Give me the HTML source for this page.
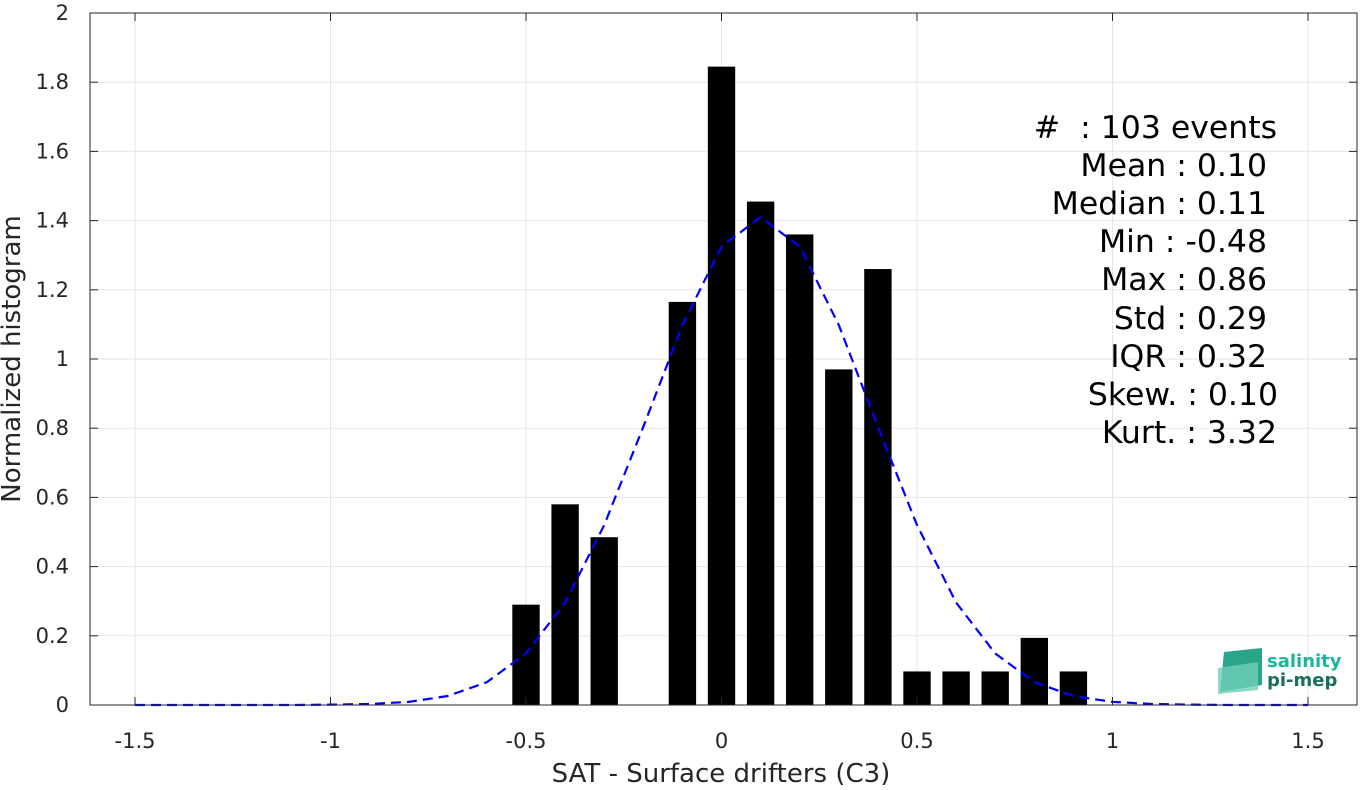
<!DOCTYPE html>
<html><head><meta charset="utf-8"><style>
body{margin:0;background:#fff;}
svg text{font-family:"DejaVu Sans","Liberation Sans",sans-serif;fill:#262626;}
</style></head><body>
<svg id="chart" width="1367" height="785" xmlns="http://www.w3.org/2000/svg">
<rect x="0" y="0" width="1367" height="785" fill="#fff"/>
<g id="grid"></g>
<g id="bars"></g>
<polyline id="fit" fill="none" stroke="#0000ff" stroke-width="2.2" stroke-dasharray="10,6"/>
<rect x="90" y="13" width="1267" height="692" fill="none" stroke="#262626" stroke-width="1"/>
<g id="ticks"></g>
<text x="721" y="782" font-size="26" text-anchor="middle">SAT - Surface drifters (C3)</text>
<text transform="translate(20,359) rotate(-90)" font-size="26" text-anchor="middle">Normalized histogram</text>
<g font-size="31.5" text-anchor="end">
<text x="1277" y="138" style="fill:#000;white-space:pre" xml:space="preserve">#  : 103 events</text>
<text x="1267" y="176" style="fill:#000">Mean : 0.10</text>
<text x="1267" y="214" style="fill:#000">Median : 0.11</text>
<text x="1267" y="252" style="fill:#000">Min : -0.48</text>
<text x="1267" y="290" style="fill:#000">Max : 0.86</text>
<text x="1267" y="329" style="fill:#000">Std : 0.29</text>
<text x="1267" y="367" style="fill:#000">IQR : 0.32</text>
<text x="1278" y="405" style="fill:#000">Skew. : 0.10</text>
<text x="1277" y="443" style="fill:#000">Kurt. : 3.32</text>
</g>
<g>
<path d="M1224 652 L1262 648 L1262 685 L1220 692 Z" fill="#2aa58a"/>
<path d="M1218 668 L1258 662 L1258 690 L1218 694 Z" fill="#6fd1b8" opacity="0.8"/>
<text x="1267" y="667" font-size="18" font-weight="bold" style="fill:#1fb59a">salinity</text>
<text x="1267" y="686" font-size="18" font-weight="bold" style="fill:#1a6e60">pi-mep</text>
</g>
</svg>
<script>
const binCenters=[-0.5,-0.4,-0.3,-0.1,0,0.1,0.2,0.3,0.4,0.5,0.6,0.7,0.8,0.9];
const binValues=[0.29,0.58,0.485,1.165,1.845,1.455,1.36,0.97,1.26,0.097,0.097,0.097,0.194,0.097];
const fitX=[-1.5,-1.4,-1.3,-1.2,-1.1,-1.0,-0.9,-0.8,-0.7,-0.6,-0.5,-0.4,-0.3,-0.2,-0.1,0,0.1,0.2,0.3,0.4,0.5,0.6,0.7,0.8,0.9,1.0,1.1,1.2,1.3,1.4,1.5];
const fitY=[0,0,0,0,0,0.001,0.003,0.009,0.026,0.066,0.149,0.296,0.52,0.804,1.098,1.325,1.41,1.325,1.098,0.804,0.52,0.296,0.149,0.066,0.026,0.009,0.003,0.001,0,0,0];
const xTicks=[-1.5,-1,-0.5,0,0.5,1,1.5];
const xTickLabels=["-1.5","-1","-0.5","0","0.5","1","1.5"];
const yTicks=[0,0.2,0.4,0.6,0.8,1,1.2,1.4,1.6,1.8,2];
const yTickLabels=["0","0.2","0.4","0.6","0.8","1","1.2","1.4","1.6","1.8","2"];
const NS="http://www.w3.org/2000/svg";
const X0=90,X1=1357,Y0=705,Y1=13,XMIN=-1.6151,XMAX=1.6253,YMIN=0,YMAX=2;
const sx=v=>X0+(v-XMIN)/(XMAX-XMIN)*(X1-X0);
const sy=v=>Y0-(v-YMIN)/(YMAX-YMIN)*(Y0-Y1);
function mk(tag,attrs,parent){const e=document.createElementNS(NS,tag);for(const k in attrs)e.setAttribute(k,attrs[k]);document.getElementById(parent).appendChild(e);return e;}
xTicks.forEach((t,i)=>{
  const g=mk('line',{x1:sx(t),x2:sx(t),y1:Y1,y2:Y0,stroke:'#e6e6e6','stroke-width':1},'grid');
  
  
  const tk=mk('line',{x1:sx(t),x2:sx(t),y1:Y0,y2:Y0-8,stroke:'#262626'},'ticks');
  
  
  const tk2=mk('line',{x1:sx(t),x2:sx(t),y1:Y1,y2:Y1+8,stroke:'#262626'},'ticks');
  
  
  const l=mk('text',{x:sx(t),y:Y0+43,'font-size':21,'text-anchor':'middle'},'ticks');
  l.textContent=xTickLabels[i];
  
  
});
yTicks.forEach((t,i)=>{
  const g=mk('line',{x1:X0,x2:X1,y1:sy(t),y2:sy(t),stroke:'#e6e6e6','stroke-width':1},'grid');
  
  
  const tk=mk('line',{x1:X0,x2:X0+8,y1:sy(t),y2:sy(t),stroke:'#262626'},'ticks');
  
  
  const tk2=mk('line',{x1:X1,x2:X1-8,y1:sy(t),y2:sy(t),stroke:'#262626'},'ticks');
  
  
  const l=mk('text',{x:X0-21,y:sy(t)+7,'font-size':21,'text-anchor':'end'},'ticks');
  l.textContent=yTickLabels[i];
  
  
});
const bw=0.07;
binCenters.forEach((c,i)=>{
  const r=mk('rect',{x:sx(c-bw/2),y:sy(binValues[i]),width:sx(c+bw/2)-sx(c-bw/2),height:sy(0)-sy(binValues[i]),fill:'#000'},'bars');
  
  
});
document.getElementById('fit').setAttribute('points',fitX.map((x,i)=>sx(x)+','+sy(fitY[i])).join(' '));
</script>
</body></html>
